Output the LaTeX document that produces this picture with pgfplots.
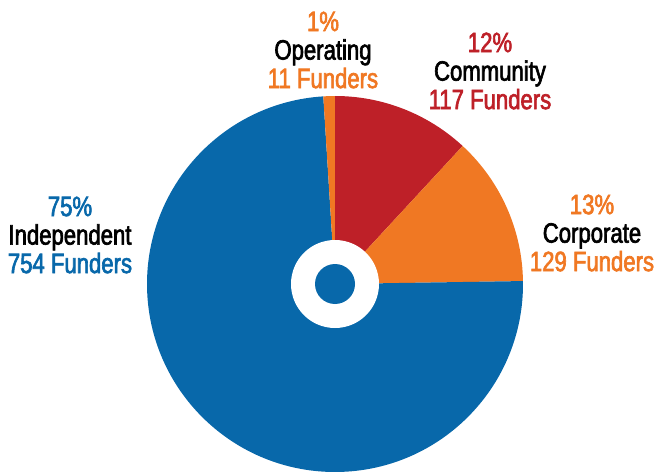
\documentclass[border=0pt]{standalone}
\usepackage{pgfplots}
\pgfplotsset{compat=1.18}
\usepackage{pgfplotstable}
\usepackage{fontspec}
\setmainfont[FakeStretch=0.79,FakeBold=2.3]{Liberation Sans}
\definecolor{cblue}{RGB}{8,104,170}
\definecolor{cred}{RGB}{190,32,40}
\definecolor{corange}{RGB}{240,120,35}
\pgfplotstableread{
name funders pct col
Community 117 12 cred
Corporate 129 13 corange
Independent 754 75 cblue
Operating 11 1 corange
}\funddata
\begin{document}
\begin{tikzpicture}
\begin{axis}[
  x=1pt, y=1pt,
  xmin=-335, xmax=321, ymin=-188, ymax=284,
  hide axis, clip=false,
]
\def\total{101}
\def\angA{90}
\pgfplotsforeachungrouped \i in {0,...,3}{%
  \pgfplotstablegetelem{\i}{pct}\of\funddata \let\val\pgfplotsretval
  \pgfplotstablegetelem{\i}{col}\of\funddata \let\cc\pgfplotsretval
  \pgfmathsetmacro\angB{\angA - \val/\total*360}%
  \edef\temp{\noexpand\fill[\cc] (axis cs:0,0) -- (axis cs:{188*cos(\angA)},{188*sin(\angA)}) arc[start angle=\angA, end angle=\angB, radius=188] -- cycle;}%
  \temp
  \let\angA\angB
}
\fill[white] (axis cs:0,0) circle[radius=44];
\fill[cblue] (axis cs:0,0) circle[radius=20];
\node[align=center, font=\fontsize{28}{28.5}\selectfont] at (axis cs:-12,234)
  {\textcolor{corange}{1\%}\\Operating\\\textcolor{corange}{11 Funders}};
\node[align=center, font=\fontsize{28}{28.5}\selectfont] at (axis cs:155,213)
  {\textcolor{cred}{12\%}\\Community\\\textcolor{cred}{117 Funders}};
\node[align=center, font=\fontsize{28}{28.5}\selectfont] at (axis cs:-265,49)
  {\textcolor{cblue}{75\%}\\Independent\\\textcolor{cblue}{754 Funders}};
\node[align=center, font=\fontsize{28}{28.5}\selectfont] at (axis cs:257,51)
  {\textcolor{corange}{13\%}\\Corporate\\\textcolor{corange}{129 Funders}};
\coordinate (bbsw) at (axis cs:-335,-188);
\coordinate (bbne) at (axis cs:321,284);
\end{axis}
\pgfresetboundingbox
\useasboundingbox (bbsw) rectangle (bbne);
\end{tikzpicture}
\end{document}
